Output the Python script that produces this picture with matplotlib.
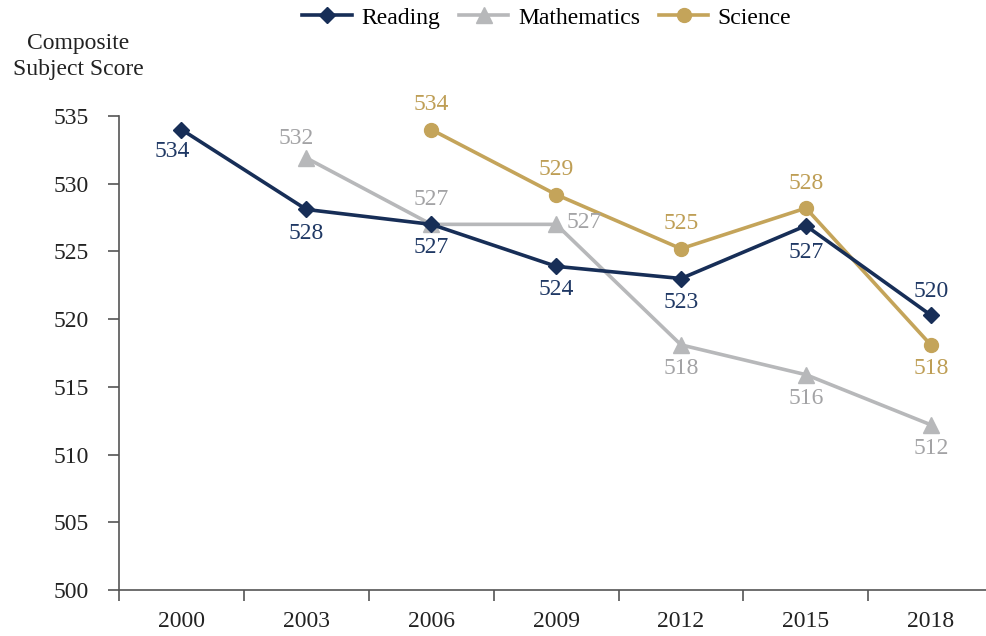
import numpy as np
import matplotlib
matplotlib.use("Agg")
import matplotlib.pyplot as plt

years = ["2000", "2003", "2006", "2009", "2012", "2015", "2018"]
reading = [534.0, 528.1, 527.0, 523.9, 523.0, 526.9, 520.3]
mathematics = [np.nan, 531.9, 527.0, 527.0, 518.1, 515.9, 512.2]
science = [np.nan, np.nan, 534.0, 529.2, 525.2, 528.2, 518.1]
yticks = [500, 505, 510, 515, 520, 525, 530, 535]

c_read = "#172E57"
c_math = "#B7B8BA"
c_sci = "#C4A45A"
t_read = "#1F3864"
t_math = "#A3A3A5"
t_sci = "#BE9E55"

plt.rcParams['font.family'] = ['Liberation Serif', 'DejaVu Serif']
fig = plt.figure(figsize=(9.87, 6.36), dpi=100)
ax = fig.add_axes([0.1206, 0.0723, 0.8794, 0.7453])
x = np.arange(len(years))

ax.plot(x, reading, color=c_read, lw=2.6, marker="D", ms=8, label="Reading", zorder=4)
ax.plot(x, mathematics, color=c_math, lw=2.6, marker="^", ms=11, label="Mathematics", zorder=3)
ax.plot(x, science, color=c_sci, lw=2.6, marker="o", ms=10, label="Science", zorder=2)

fs = 17
# label offsets in points (dx, dy)
read_off = [(-7, -16), (0, -17), (0, -17), (0, -17), (0, -17), (0, -19), (0, 17)]
math_off = [None, (-7, 14), (0, 18), (20, 1), (0, -17), (0, -17), (0, -17)]
sci_off = [None, None, (0, 18), (0, 18), (0, 18), (0, 18), (0, -17)]
for series, offs, col in [(reading, read_off, t_read), (mathematics, math_off, t_math), (science, sci_off, t_sci)]:
    for i, (v, o) in enumerate(zip(series, offs)):
        if o is None or np.isnan(v):
            continue
        ax.annotate(f"{v:.0f}", (x[i], v), xytext=o, textcoords="offset points",
                    ha="center", va="center", fontsize=fs, color=col, zorder=6)

ax.set_ylim(500, 535)
ax.set_yticks(yticks)
ax.set_xlim(-0.5, 6.45)
ax.set_xticks(x)
ax.set_xticklabels(years)
ax.set_xticks(np.arange(-0.5, 6.5, 1), minor=True)
ax.tick_params(axis="x", which="major", length=0, pad=15, labelsize=fs, colors="#222222")
ax.tick_params(axis="x", which="minor", length=8, width=1.2, direction="out", color="#555555")
ax.tick_params(axis="y", length=8, width=1.2, direction="out", pad=14, labelsize=fs, color="#555555", labelcolor="#222222")
for s in ["top", "right"]:
    ax.spines[s].set_visible(False)
for s in ["left", "bottom"]:
    ax.spines[s].set_color("#555555")
    ax.spines[s].set_linewidth(1.2)

fig.text(0.079, 0.911, "Composite\nSubject Score", ha="center", va="center", fontsize=fs,
         color="#222222", linespacing=1.35)

fig.legend(loc="center", bbox_to_anchor=(0.554, 0.972), ncol=3, frameon=False, fontsize=fs,
           handlelength=2.1, columnspacing=0.8, handletextpad=0.4)

fig.savefig("out.png", dpi=100)
